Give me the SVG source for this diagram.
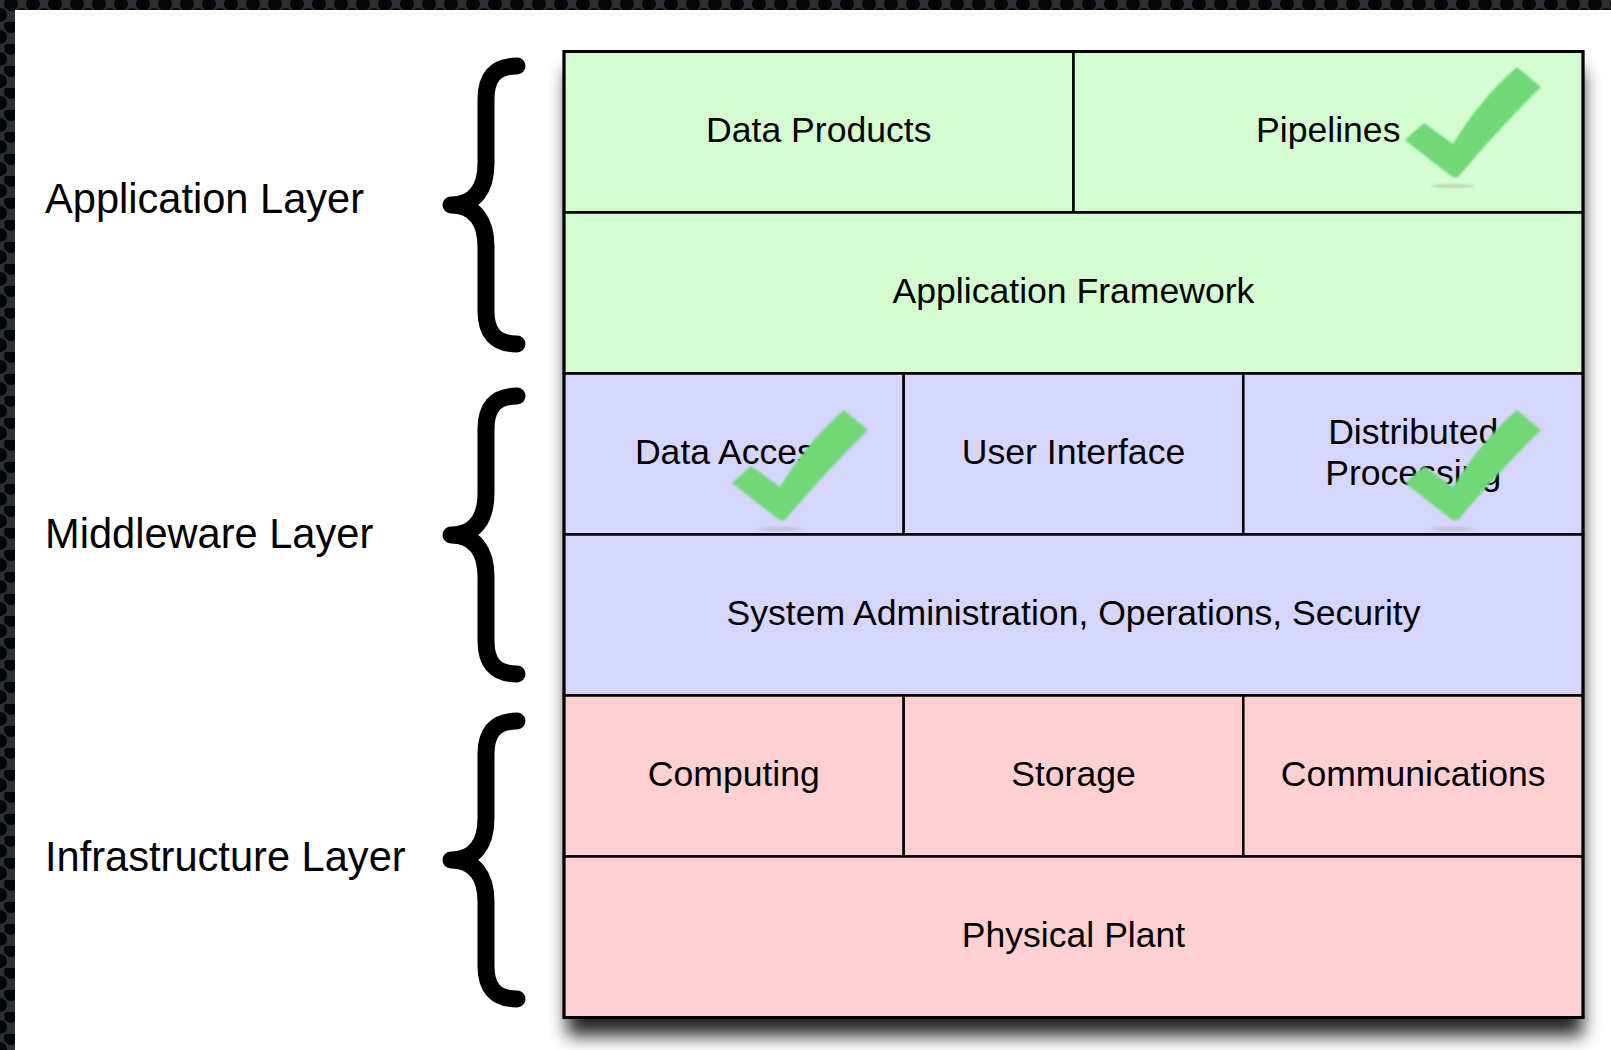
<svg xmlns="http://www.w3.org/2000/svg" width="1611" height="1050" viewBox="0 0 1611 1050">
  <style>
    .lbl { font-family: "Liberation Sans", Arial, Helvetica, sans-serif; font-size: 35.6px; fill: #000; text-anchor: middle; }
    .layer { font-family: "Liberation Sans", Arial, Helvetica, sans-serif; font-size: 41.6px; fill: #000; }
    .cell { stroke: #000; stroke-width: 2.5; }
    .app { fill: #d4fcd0; }
    .mid { fill: #d6d6fc; }
    .inf { fill: #ffd0d2; }
    .brace { fill: none; stroke: #000; stroke-width: 17; stroke-linecap: round; stroke-linejoin: round; }
    .check { fill: #6fd877; }
  </style>
  <defs>
    <pattern id="dots" x="0" y="0" width="22" height="22" patternUnits="userSpaceOnUse">
      <rect width="22" height="22" fill="#2c2f34"/>
      <circle cx="11" cy="4" r="7" fill="#050607"/>
      <circle cx="0" cy="15" r="7" fill="#050607"/>
      <circle cx="22" cy="15" r="7" fill="#050607"/>
    </pattern>
    <filter id="shadow" x="-10%" y="-10%" width="120%" height="120%">
      <feGaussianBlur stdDeviation="9"/>
    </filter>
    <filter id="soft" x="-20%" y="-20%" width="140%" height="140%">
      <feGaussianBlur stdDeviation="0.9"/>
    </filter>
    <filter id="faint" x="-50%" y="-200%" width="200%" height="500%">
      <feGaussianBlur stdDeviation="1.2"/>
    </filter>
    <path id="brace" d="M66,-139 C43,-139 35,-126 35,-106 L35,-42 C35,-16 24,0 0,0 C24,0 35,16 35,42 L35,106 C35,126 43,139 66,139"/>
    <g id="tick">
      <ellipse cx="-2" cy="9" rx="22" ry="2" fill="#999" opacity="0.35" filter="url(#faint)"/>
      <path class="check" filter="url(#soft)" d="M-50,-37 L-31,-54 L-2,-33 Q25,-78 62,-110 L86,-90 Q45,-50 4,-1 Q0,2 -4,-1 Z"/>
    </g>
  </defs>

  <!-- background -->
  <rect x="0" y="0" width="1611" height="1050" fill="url(#dots)"/>
  <rect x="15" y="10" width="1596" height="1040" fill="#ffffff"/>

  <!-- layer labels -->
  <g id="label-application">
    <text class="layer" x="45" y="213">Application Layer</text>
  </g>
  <g id="label-middleware">
    <text class="layer" x="45" y="548">Middleware Layer</text>
  </g>
  <g id="label-infrastructure">
    <text class="layer" x="45" y="871">Infrastructure Layer</text>
  </g>

  <!-- braces (connectors) -->
  <g id="connectors">
    <use href="#brace" class="brace" transform="translate(451,205)"/>
    <use href="#brace" class="brace" transform="translate(451,535)"/>
    <use href="#brace" class="brace" transform="translate(451,860)"/>
  </g>

  <!-- stack shadow -->
  <rect x="567" y="70" width="1016" height="966" fill="#000" opacity="0.85" filter="url(#shadow)"/>

  <!-- application layer -->
  <g id="data-products">
    <rect class="cell app" x="564" y="51.5" width="509.5" height="161"/>
    <text class="lbl" x="818.75" y="142">Data Products</text>
  </g>
  <g id="pipelines">
    <rect class="cell app" x="1073.5" y="51.5" width="509.5" height="161"/>
    <text class="lbl" x="1328.25" y="142">Pipelines</text>
  </g>
  <g id="application-framework">
    <rect class="cell app" x="564" y="212.5" width="1019" height="161"/>
    <text class="lbl" x="1073.5" y="303">Application Framework</text>
  </g>

  <!-- middleware layer -->
  <g id="data-access">
    <rect class="cell mid" x="564" y="373.5" width="339.7" height="161"/>
    <text class="lbl" x="733.8" y="464">Data Access</text>
  </g>
  <g id="user-interface">
    <rect class="cell mid" x="903.7" y="373.5" width="339.6" height="161"/>
    <text class="lbl" x="1073.5" y="464">User Interface</text>
  </g>
  <g id="distributed-processing">
    <rect class="cell mid" x="1243.3" y="373.5" width="339.7" height="161"/>
    <text class="lbl" x="1413.2" y="443.5">Distributed</text>
    <text class="lbl" x="1413.2" y="484.5">Processing</text>
  </g>
  <g id="system-administration">
    <rect class="cell mid" x="564" y="534.5" width="1019" height="161"/>
    <text class="lbl" x="1073.5" y="625">System Administration, Operations, Security</text>
  </g>

  <!-- infrastructure layer -->
  <g id="computing">
    <rect class="cell inf" x="564" y="695.5" width="339.7" height="161"/>
    <text class="lbl" x="733.8" y="786">Computing</text>
  </g>
  <g id="storage">
    <rect class="cell inf" x="903.7" y="695.5" width="339.6" height="161"/>
    <text class="lbl" x="1073.5" y="786">Storage</text>
  </g>
  <g id="communications">
    <rect class="cell inf" x="1243.3" y="695.5" width="339.7" height="161"/>
    <text class="lbl" x="1413.2" y="786">Communications</text>
  </g>
  <g id="physical-plant">
    <rect class="cell inf" x="564" y="856.5" width="1019" height="161"/>
    <text class="lbl" x="1073.5" y="947">Physical Plant</text>
  </g>

  <!-- outer border -->
  <rect x="564" y="51.5" width="1019" height="966" fill="none" stroke="#000" stroke-width="3"/>

  <!-- checkmarks -->
  <g id="check-pipelines"><use href="#tick" transform="translate(1455,177)"/></g>
  <g id="check-data-access"><use href="#tick" transform="translate(782,520)"/></g>
  <g id="check-distributed"><use href="#tick" transform="translate(1455,520)"/></g>
</svg>
